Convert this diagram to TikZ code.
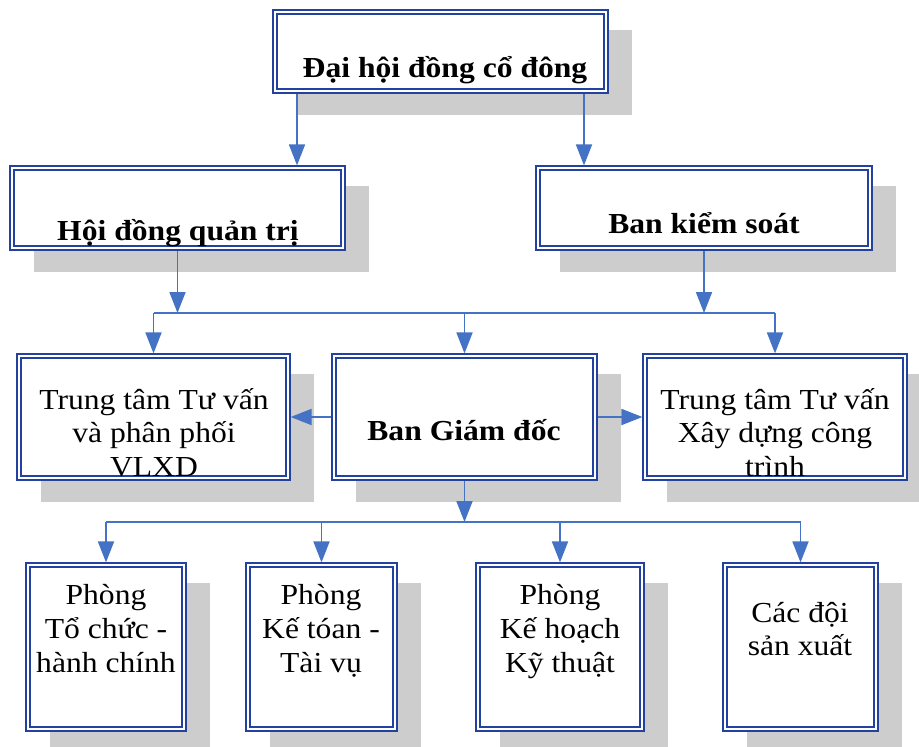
\documentclass[tikz,border=0pt]{standalone}
\usepackage{fontspec}
\setmainfont{Liberation Serif}[FakeStretch=1.09]
\usetikzlibrary{arrows.meta,fit}
\definecolor{boxblue}{RGB}{35,65,160}
\definecolor{arrblue}{RGB}{68,114,196}
\definecolor{shadegray}{RGB}{205,205,205}
\tikzset{
  outerbox/.style={draw=boxblue, line width=1.2pt, fill=white, inner sep=0pt},
  innerline/.style={draw=boxblue, line width=2pt},
  conn/.style={draw=arrblue, line width=1.8pt},
  arr/.style={conn, -{Triangle[length=21pt,width=16pt]}},
  txt/.style={anchor=base, inner sep=0pt, font=\fontsize{29}{34}\selectfont},
  btxt/.style={txt, font=\fontsize{29}{34}\selectfont\bfseries},
}
\newcommand{\orgbox}[5]{%
  \coordinate (#1-nw) at (#2,#3);
  \coordinate (#1-se) at (#4,#5);
  \fill[shadegray] ([shift={(24,20)}]#1-nw) rectangle ([shift={(24,22)}]#1-se);
  \node[outerbox, fit=(#1-nw)(#1-se)] (#1) {};
  \draw[innerline] ([shift={(4.5,4.5)}]#1.north west) rectangle ([shift={(-4.5,-4.5)}]#1.south east);
}
\begin{document}
\begin{tikzpicture}[x=1pt,y=-1pt]
\useasboundingbox[fill=white] (0,0) rectangle (919,747);
% boxes
\orgbox{top}{273}{10}{608}{93}
\orgbox{hq}{10}{166}{345}{250}
\orgbox{bks}{536}{166}{872}{250}
\orgbox{tvl}{17}{354}{290}{480}
\orgbox{bgd}{332}{354}{597}{480}
\orgbox{tvr}{643}{354}{907}{480}
\orgbox{p1}{26}{563}{186}{731}
\orgbox{p2}{246}{563}{397}{731}
\orgbox{p3}{476}{563}{644}{731}
\orgbox{p4}{723}{563}{878}{731}
% texts
\node[btxt] (ttop) at (445,77) {Đại hội đồng cổ đông};
\node[btxt] (thq) at (178,240) {Hội đồng quản trị};
\node[btxt] (tbks) at (704,233) {Ban kiểm soát};
\node[btxt] (tbgd) at (464,440) {Ban Giám đốc};
\node[txt] (tvl1) at (154,409) {Trung tâm Tư vấn};
\node[txt] (tvl2) at (154,442) {và phân phối};
\node[txt] (tvl3) at (154,476) {VLXD};
\node[txt] (tvr1) at (775,409) {Trung tâm Tư vấn};
\node[txt] (tvr2) at (775,442) {Xây dựng công};
\node[txt] (tvr3) at (775,476) {trình};
\node[txt] (p1a) at (106,604) {Phòng};
\node[txt] (p1b) at (106,638) {Tổ chức -};
\node[txt] (p1c) at (106,672) {hành chính};
\node[txt] (p2a) at (321,604) {Phòng};
\node[txt] (p2b) at (321,638) {Kế tóan -};
\node[txt] (p2c) at (321,672) {Tài vụ};
\node[txt] (p3a) at (560,604) {Phòng};
\node[txt] (p3b) at (560,638) {Kế hoạch};
\node[txt] (p3c) at (560,672) {Kỹ thuật};
\node[txt] (p4a) at (800,622) {Các đội};
\node[txt] (p4b) at (800,655) {sản xuất};
% connector coordinates
\coordinate (xa) at (297,0);
\coordinate (xb) at (584,0);
\coordinate (busA) at (0,313);
\coordinate (busB) at (0,522);
% connectors
\draw[arr] (xa |- top.south) -- (xa |- hq.north);
\draw[arr] (xb |- top.south) -- (xb |- bks.north);
\draw[arr] (hq.south) -- (hq.south |- busA);
\draw[arr] (bks.south) -- (bks.south |- busA);
\draw[conn] (tvl.north |- busA) -- (tvr.north |- busA);
\draw[arr] (tvl.north |- busA) -- (tvl.north);
\draw[arr] (bgd.north |- busA) -- (bgd.north);
\draw[arr] (tvr.north |- busA) -- (tvr.north);
\draw[arr] (bgd.west) -- (tvl.east);
\draw[arr] (bgd.east) -- (tvr.west);
\draw[arr] (bgd.south) -- (bgd.south |- busB);
\draw[conn] (p1.north |- busB) -- (p4.north |- busB);
\draw[arr] (p1.north |- busB) -- (p1.north);
\draw[arr] (p2.north |- busB) -- (p2.north);
\draw[arr] (p3.north |- busB) -- (p3.north);
\draw[arr] (p4.north |- busB) -- (p4.north);
\end{tikzpicture}
\end{document}
